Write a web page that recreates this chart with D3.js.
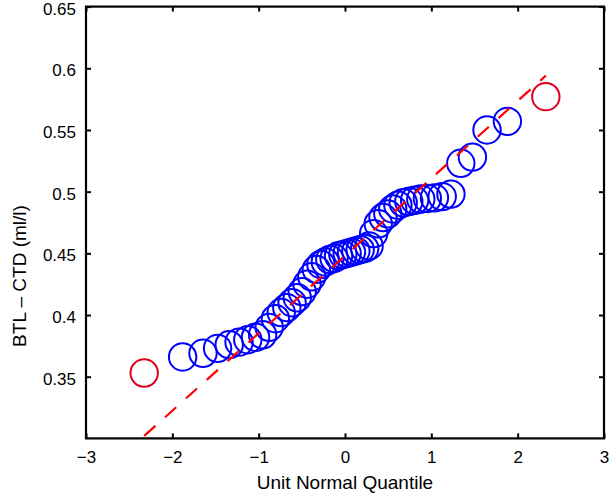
<!DOCTYPE html>
<html>
<head>
<meta charset="utf-8">
<script src="https://cdn.jsdelivr.net/npm/d3@7"></script>
<style>
html,body{margin:0;padding:0;background:#fff;}
svg{display:block;font-family:"Liberation Sans",Arial,Helvetica,sans-serif;}
</style>
</head>
<body>
<svg id="chart" width="613" height="497"></svg>
<script>
// Unit normal quantiles (x) for the sorted sample
const quantiles = [-2.326,-1.881,-1.645,-1.476,-1.341,-1.227,-1.126,-1.036,-0.954,-0.878,
  -0.806,-0.739,-0.674,-0.613,-0.553,-0.496,-0.440,-0.385,-0.332,-0.279,
  -0.228,-0.176,-0.126,-0.075,-0.025,0.025,0.075,0.126,0.176,0.228,
  0.279,0.332,0.385,0.440,0.496,0.553,0.613,0.674,0.739,0.806,
  0.878,0.954,1.036,1.126,1.227,1.341,1.476,1.645,1.881,2.326];
// Sorted sample BTL - CTD (ml/l)
const values = [0.353,0.366,0.369,0.373,0.376,0.378,0.380,0.382,0.384,0.390,
  0.397,0.402,0.406,0.410,0.414,0.419,0.425,0.431,0.437,0.441,
  0.443,0.445,0.446,0.448,0.449,0.450,0.451,0.452,0.453,0.454,
  0.456,0.466,0.474,0.479,0.482,0.486,0.489,0.491,0.492,0.493,
  0.494,0.4945,0.495,0.496,0.498,0.523,0.528,0.550,0.557,0.577];
// Reference line endpoints (through quartiles, extended)
const refLineX = [-2.326, 2.326];
const refLineY = [0.302, 0.594];
const xTicks = [-3,-2,-1,0,1,2,3];
const yTicks = [0.35,0.4,0.45,0.5,0.55,0.6,0.65];
const xLabel = "Unit Normal Quantile";
const yLabel = "BTL \u2013 CTD (ml/l)";

const svg = d3.select("#chart");
const L = 86, R = 604, T = 6.6, B = 438.4;
const x = d3.scaleLinear().domain([-3,3]).range([L,R]);
const y = d3.scaleLinear().domain([0.3,0.65]).range([B,T]);

const fmtX = d => d < 0 ? "\u2212" + Math.abs(d) : String(d);
const fmtY = d => String(+d.toFixed(2));

// points
const pts = quantiles.map((q,i)=>({q, v: values[i], outlier: i===0 || i===quantiles.length-1}));
svg.append("g").selectAll("circle").data(pts).join("circle")
  .attr("cx", d=>x(d.q)).attr("cy", d=>y(d.v)).attr("r", 13.7)
  .attr("fill","none")
  .attr("stroke", d=>d.outlier ? "#e0001b" : "#0000ff")
  .attr("stroke-width", 2);

// reference line
svg.append("path")
  .datum(refLineX.map((d,i)=>[d, refLineY[i]]))
  .attr("d", d3.line().x(d=>x(d[0])).y(d=>y(d[1])))
  .attr("fill","none").attr("stroke","#ff0000").attr("stroke-width",2.2)
  .attr("stroke-dasharray","15,13");

// axes
const axB = svg.append("g").attr("transform",`translate(0,${B})`)
  .call(d3.axisBottom(x).tickValues(xTicks).tickFormat(fmtX).tickSize(-5).tickPadding(13));
const axT = svg.append("g").attr("transform",`translate(0,${T})`)
  .call(d3.axisTop(x).tickValues(xTicks).tickFormat("").tickSize(-5));
const axL = svg.append("g").attr("transform",`translate(${L},0)`)
  .call(d3.axisLeft(y).tickValues(yTicks).tickFormat(fmtY).tickSize(-5).tickPadding(10));
const axR = svg.append("g").attr("transform",`translate(${R},0)`)
  .call(d3.axisRight(y).tickValues(yTicks).tickFormat("").tickSize(-5));
[axB,axT,axL,axR].forEach(g=>{
  g.select(".domain").remove();
  g.selectAll(".tick line").attr("stroke","#000").attr("stroke-width",2);
  g.selectAll("text").attr("font-size",17).attr("fill","#000")
   .attr("font-family",'"Liberation Sans",Arial,sans-serif');
});
axL.selectAll("text").attr("dy","0.44em");
svg.append("rect").attr("x",L).attr("y",T).attr("width",R-L).attr("height",B-T)
  .attr("fill","none").attr("stroke","#000").attr("stroke-width",2.2);

svg.append("text").attr("x",(L+R)/2).attr("y",488.5).attr("text-anchor","middle")
  .attr("font-size",19).attr("fill","#000").text(xLabel);
svg.append("text").attr("transform","translate(25.5,276) rotate(-90)")
  .attr("text-anchor","middle").attr("font-size",19).attr("fill","#000").text(yLabel);
</script>
</body>
</html>
